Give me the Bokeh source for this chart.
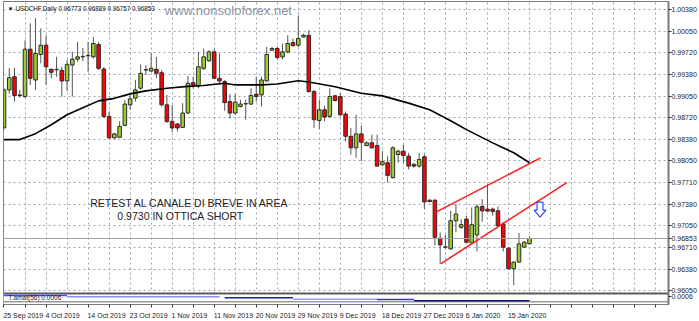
from bokeh.plotting import figure
from bokeh.models import Range1d, FixedTicker, Span, Label, ColumnDataSource, CustomJSTickFormatter
from bokeh.embed import file_html
from bokeh.resources import INLINE

# ---------------- data ----------------
opens = [0.98563, 0.99146, 0.99350, 0.99059, 0.99043, 0.99774, 0.99299, 0.99693, 0.99836, 0.99463,
         0.99463, 0.99448, 0.99284, 0.99529, 0.99621, 0.99656, 0.99672, 0.99656, 0.99846, 0.99468,
         0.98737, 0.98406, 0.98415, 0.98599, 0.98916, 0.99019, 0.99172, 0.99453, 0.99437, 0.99463,
         0.99411, 0.98916, 0.98660, 0.98620, 0.98568, 0.98789, 0.99258, 0.99207, 0.99479, 0.99595,
         0.99733, 0.99325, 0.99273, 0.98967, 0.98789, 0.98890, 0.98931, 0.98927, 0.99080, 0.99069,
         0.99284, 0.99759, 0.99785, 0.99656, 0.99733, 0.99877, 0.99836, 0.99963, 0.99989, 0.99120,
         0.98675, 0.98839, 0.98737, 0.99054, 0.99043, 0.98773, 0.98430, 0.98252, 0.98467, 0.98287,
         0.98329, 0.98287, 0.97992, 0.98022, 0.97792, 0.98149, 0.98200, 0.98123, 0.97996, 0.97970,
         0.98114, 0.97444, 0.97444, 0.96857, 0.96719, 0.96693, 0.97127, 0.97026, 0.97153, 0.96785,
         0.96908, 0.97348, 0.97306, 0.97306, 0.97280, 0.97076, 0.96704, 0.96386, 0.96489, 0.96719,
         0.96773]
highs = [0.99177, 0.99483, 0.99488, 0.99146, 0.99912, 1.00173, 1.00254, 1.00096, 0.99989, 0.99479,
         0.99656, 0.99503, 0.99606, 0.99733, 0.99886, 0.99794, 0.99886, 0.99963, 0.99886, 0.99503,
         0.98813, 0.98482, 0.98660, 0.98993, 0.99069, 0.99299, 0.99540, 0.99529, 0.99709, 0.99656,
         0.99453, 0.99069, 0.98916, 0.98635, 0.98942, 0.99365, 0.99350, 0.99733, 0.99785, 0.99759,
         0.99774, 0.99709, 0.99299, 0.99080, 0.99080, 0.98993, 0.98993, 0.99172, 0.99350, 0.99350,
         0.99810, 0.99810, 0.99820, 0.99862, 0.99989, 0.99938, 1.00296, 1.00015, 1.00066, 0.99146,
         0.98993, 0.98901, 0.99172, 0.99069, 0.99105, 0.98813, 0.98559, 0.98763, 0.98594, 0.98353,
         0.98456, 0.98456, 0.98200, 0.98123, 0.98277, 0.98226, 0.98303, 0.98176, 0.98022, 0.98176,
         0.98149, 0.97460, 0.97460, 0.96949, 0.96908, 0.97280, 0.97383, 0.97153, 0.97204, 0.97332,
         0.97383, 0.97460, 0.97690, 0.97332, 0.97348, 0.97112, 0.96719, 0.96498, 0.96938, 0.96811,
         0.96889]
lows = [0.98533, 0.99085, 0.98967, 0.99028, 0.99023, 0.99223, 0.99146, 0.99555, 0.99223, 0.99325,
        0.99350, 0.99043, 0.99131, 0.99043, 0.99580, 0.99591, 0.99426, 0.99632, 0.99453, 0.98712,
        0.98395, 0.98395, 0.98406, 0.98586, 0.98839, 0.98967, 0.99146, 0.99376, 0.99426, 0.99325,
        0.98890, 0.98635, 0.98497, 0.98507, 0.98559, 0.98773, 0.99172, 0.99172, 0.99453, 0.99580,
        0.99315, 0.99223, 0.98824, 0.98701, 0.98763, 0.98875, 0.98686, 0.98916, 0.98967, 0.98890,
        0.99273, 0.99744, 0.99617, 0.99617, 0.99709, 0.99810, 0.99805, 0.99954, 0.99105, 0.98559,
        0.98543, 0.98660, 0.98712, 0.98967, 0.98737, 0.98353, 0.98149, 0.98099, 0.98047, 0.98277,
        0.98241, 0.97961, 0.97970, 0.97716, 0.97777, 0.98022, 0.98022, 0.97920, 0.97946, 0.97946,
        0.97306, 0.97409, 0.96744, 0.96463, 0.96693, 0.96678, 0.96949, 0.97000, 0.96785, 0.96777,
        0.96652, 0.97112, 0.97265, 0.97204, 0.97041, 0.96652, 0.96376, 0.96130, 0.96478, 0.96708,
        0.96757]
closes = [0.99146, 0.99335, 0.99059, 0.99069, 0.99774, 0.99325, 0.99709, 0.99836, 0.99503, 0.99417,
          0.99457, 0.99284, 0.99540, 0.99621, 0.99656, 0.99663, 0.99678, 0.99862, 0.99479, 0.98737,
          0.98406, 0.98467, 0.98583, 0.98927, 0.99008, 0.99146, 0.99402, 0.99459, 0.99479, 0.99402,
          0.98916, 0.98660, 0.98559, 0.98559, 0.98789, 0.99249, 0.99223, 0.99503, 0.99656, 0.99733,
          0.99325, 0.99284, 0.98951, 0.98789, 0.98957, 0.98927, 0.98934, 0.99059, 0.99043, 0.99299,
          0.99693, 0.99785, 0.99647, 0.99733, 0.99862, 0.99831, 0.99938, 0.99989, 0.99120, 0.98686,
          0.98839, 0.98727, 0.99043, 0.98982, 0.98763, 0.98430, 0.98252, 0.98467, 0.98338, 0.98329,
          0.98252, 0.97970, 0.98038, 0.97828, 0.98252, 0.98200, 0.98134, 0.97970, 0.97970, 0.98073,
          0.97418, 0.97424, 0.96872, 0.96754, 0.96724, 0.97127, 0.97230, 0.97066, 0.96796, 0.97066,
          0.97342, 0.97280, 0.97276, 0.97271, 0.97050, 0.96719, 0.96386, 0.96489, 0.96770, 0.96796,
          0.96853]

# moving average (black line) read at selected bars
ma_bars = [0, 3, 6, 9, 12, 15, 18, 21, 24, 27, 31, 35, 38, 42, 44, 49, 52, 56, 58, 63, 68, 72, 77, 81, 85, 88, 93, 97, 100]
ma_vals = [0.98379, 0.98379, 0.98471, 0.98609, 0.98763, 0.98870, 0.98977, 0.99016, 0.99085, 0.99131,
           0.99172, 0.99200, 0.99215, 0.99249, 0.99223, 0.99223, 0.99238, 0.99288, 0.99269, 0.99196,
           0.99095, 0.99054, 0.98942, 0.98839, 0.98671, 0.98533, 0.98329, 0.98176, 0.98022]

# lower-panel indicator: level segments (start bar, end bar, value)
ind_start = [0, 12, 42, 55, 71, 78]
ind_end = [12, 41, 55, 71, 78, 100]
ind_vals = [0.00120, 0.00105, 0.00094, 0.00078, 0.00075, 0.00060]
ind_colors = ["#4646ff", "#8c8cf0", "#22228e", "#9c9cf2", "#3434d4", "#121272"]
ind_label = "T.amat(56) 0.0006"
ind_value_text = "0.0006"

# channel lines drawn on chart (bar index, price)
upper_line_x = [82.1, 102.1]
upper_line_y = [0.97256, 0.98096]
lower_line_x = [83.1, 107.1]
lower_line_y = [0.96463, 0.97716]

# down arrow (centre bar, top price, neck price, tip price)
arrow_x = 102.0
arrow_top = 0.97414
arrow_neck = 0.97291
arrow_tip = 0.97184

price_ticks = [1.00380, 1.00050, 0.99720, 0.99380, 0.99050, 0.98720, 0.98380,
               0.98050, 0.97710, 0.97380, 0.97050, 0.96710, 0.96380, 0.96050]
date_tick_bars = [0, 8, 16, 24, 32, 40, 48, 56, 64, 72, 80, 88, 96]
date_tick_labels = ["25 Sep 2019", "4 Oct 2019", "14 Oct 2019", "23 Oct 2019", "1 Nov 2019",
                    "11 Nov 2019", "20 Nov 2019", "29 Nov 2019", "9 Dec 2019", "18 Dec 2019",
                    "27 Dec 2019", "6 Jan 2020", "15 Jan 2020"]

title_text = "\u25BC USDCHF,Daily 0.96773 0.96889 0.96757 0.96853"
watermark = "www.nonsoloforex.net"
note1 = "RETEST AL CANALE DI BREVE IN AREA"
note2 = "0.9730 IN OTTICA SHORT"
last_price = closes[-1]

# ---------------- figure ----------------
FONT = "Liberation Sans"
AX_FS = 7.0
PX_PER_BAR = 5.277
X0, X1 = -0.095, 126.45
Y0, Y1 = 0.958346, 1.005103

p = figure(width=699, height=321, x_range=Range1d(X0, X1), y_range=Range1d(Y0, Y1),
           y_axis_location="right", output_backend="svg", toolbar_location=None,
           min_border_left=3, min_border_top=1, min_border_bottom=15, min_border_right=28)
p.background_fill_color = "white"
p.border_fill_color = "white"
p.outline_line_color = "#7a7a7a"
p.outline_line_width = 1

# grids
grid_col = "#9aa4b4"
p.xgrid.ticker = FixedTicker(ticks=list(range(0, 128, 4)))
p.ygrid.ticker = FixedTicker(ticks=price_ticks)
for g in (p.xgrid, p.ygrid):
    g.grid_line_color = grid_col
    g.grid_line_dash = "2 3"
    g.grid_line_width = 1

# --- x axis: MT4 puts each date label to the right of its tick, so the
# label centre is shifted by half the (estimated) text width
CW = {" ": 0.278, ".": 0.278}
for ch in "0123456789":
    CW[ch] = 0.556
CW.update({"S": 0.667, "O": 0.778, "N": 0.722, "D": 0.722, "J": 0.5, "e": 0.556, "p": 0.556,
           "c": 0.5, "t": 0.278, "o": 0.556, "v": 0.5, "a": 0.556, "n": 0.556})
def text_w(s):
    return sum(CW.get(c, 0.556) for c in s) * AX_FS

label_centres = [b - 0.1 + text_w(l) / 2 / PX_PER_BAR for b, l in zip(date_tick_bars, date_tick_labels)]
p.xaxis.ticker = FixedTicker(ticks=label_centres, minor_ticks=list(range(0, 128, 4)))
p.xaxis.formatter = CustomJSTickFormatter(args=dict(labels=date_tick_labels), code="return labels[index];")
p.xaxis.major_tick_out = 0
p.xaxis.major_tick_in = 0
p.xaxis.minor_tick_out = 3
p.xaxis.minor_tick_in = 0
p.xaxis.major_label_standoff = 4

# --- y axis (right)
ind_tick = 0.95957
p.yaxis.ticker = FixedTicker(ticks=price_ticks + [last_price, ind_tick])
p.yaxis.formatter = CustomJSTickFormatter(args=dict(thr=0.9601, txt=ind_value_text),
                                          code="if (tick < thr) { return txt; } return tick.toFixed(5);")
p.yaxis.major_tick_out = 3
p.yaxis.major_tick_in = 0
p.yaxis.minor_tick_out = 0
p.yaxis.major_label_standoff = 0
p.yaxis.axis_line_width = 2

for ax in (p.xaxis, p.yaxis):
    ax.major_label_text_font = FONT
    ax.major_label_text_font_size = "%gpx" % AX_FS
    ax.major_label_text_color = "#222222"
    ax.axis_line_color = "#7a7a7a"
    ax.major_tick_line_color = "#333333"
    ax.minor_tick_line_color = "#333333"

# indicator sub-panel (white strip at bottom of frame)
panel_top = 0.95995
p.quad(left=X0, right=X1, bottom=Y0, top=panel_top, fill_color="white", line_color=None)
p.line([X0, X1], [0.96003, 0.96003], line_color="#5a5a5a", line_width=2)
p.line([X0, X1], [0.95876, 0.95876], line_color="#6a6a6a", line_width=1)

p.extra_y_ranges = {"ind": Range1d(0.000182, 0.03465)}
p.segment(x0=ind_start, y0=ind_vals, x1=ind_end, y1=ind_vals, y_range_name="ind",
          line_color=ind_colors, line_width=1.5)

# bid line
p.add_layout(Span(location=last_price, dimension="width", line_color="#a0a0a0", line_width=1))

# watermark (drawn beneath the candles)
p.add_layout(Label(x=30.6, y=1.00372, text=watermark, text_font=FONT, text_font_size="13px",
                   text_color="#8a93a0", text_baseline="middle", level="underlay"))

# candles
up = [i for i in range(len(opens)) if closes[i] >= opens[i]]
dn = [i for i in range(len(opens)) if closes[i] < opens[i]]
src_all = ColumnDataSource(dict(x=list(range(len(opens))), h=highs, l=lows))
p.segment(x0="x", y0="h", x1="x", y1="l", source=src_all, line_color="#555555", line_width=1)
src_up = ColumnDataSource(dict(x=up, t=[closes[i] for i in up], b=[opens[i] for i in up]))
src_dn = ColumnDataSource(dict(x=dn, t=[opens[i] for i in dn], b=[closes[i] for i in dn]))
p.vbar(x="x", top="t", bottom="b", width=0.68, source=src_up, fill_color="#9acd32", line_color="#2a2a2a", line_width=1)
p.vbar(x="x", top="t", bottom="b", width=0.68, source=src_dn, fill_color="#ff0000", line_color="#2a2a2a", line_width=1)

# moving average
p.line(ma_bars, ma_vals, line_color="black", line_width=1.6)

# channel lines
p.line(upper_line_x, upper_line_y, line_color="#ff1a1a", line_width=1.5)
p.line(lower_line_x, lower_line_y, line_color="#ff1a1a", line_width=1.5)

# hollow down arrow
sw, hw = 0.57, 1.14
ax_pts = [arrow_x - sw, arrow_x + sw, arrow_x + sw, arrow_x + hw, arrow_x, arrow_x - hw, arrow_x - sw]
ay_pts = [arrow_top, arrow_top, arrow_neck, arrow_neck, arrow_tip, arrow_neck, arrow_neck]
p.patch(ax_pts, ay_pts, fill_color="white", line_color="#2a4dff", line_width=1.2)

# texts inside the chart area
p.add_layout(Label(x=X0, y=Y1, x_offset=4, y_offset=-3, text=title_text, text_font=FONT,
                   text_font_size="6.3px", text_color="#111111", text_baseline="top"))
p.add_layout(Label(x=16.4, y=0.97400, text=note1, text_font=FONT, text_font_size="10.5px",
                   text_color="#222222", text_baseline="middle"))
p.add_layout(Label(x=33.6, y=0.97200, text=note2, text_font=FONT, text_font_size="10.5px",
                   text_color="#222222", text_baseline="middle", text_align="center"))
p.add_layout(Label(x=X0, y=0.95935, x_offset=5, text=ind_label, text_font=FONT,
                   text_font_size="6.5px", text_color="#222222", text_baseline="middle"))

open("out.html", "w").write(file_html(p, INLINE))
